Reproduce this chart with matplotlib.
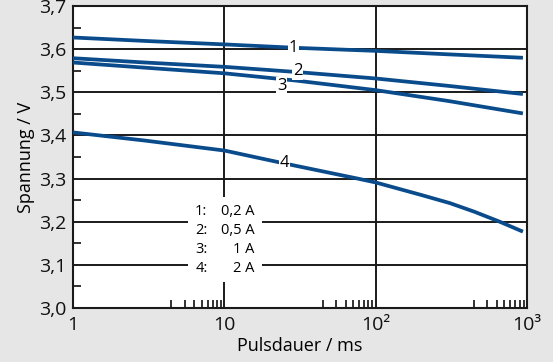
import numpy as np
import matplotlib.pyplot as plt
from matplotlib.patches import Rectangle
from matplotlib.ticker import FixedLocator, NullFormatter

plt.rcParams['font.family'] = ['Open Sans', 'DejaVu Sans']

# Pulsdauer (ms) und Spannung (V) je Kurve
x_1 = [1, 3, 10, 30, 100, 300, 940]
u_1 = [3.627, 3.619, 3.611, 3.603, 3.596, 3.588, 3.580]

x_2 = [1, 3, 10, 30, 100, 300, 940]
u_2 = [3.579, 3.569, 3.559, 3.547, 3.532, 3.515, 3.496]

x_3 = [1, 3, 10, 30, 100, 300, 940]
u_3 = [3.569, 3.557, 3.544, 3.527, 3.505, 3.480, 3.451]

x_4 = [1, 3, 10, 25, 76, 100, 200, 310, 450, 660, 940]
u_4 = [3.407, 3.388, 3.365, 3.335, 3.300, 3.291, 3.262, 3.243, 3.223, 3.200, 3.177]

kurven = ["1", "2", "3", "4"]
# Lage der Kurvennummern (x in ms, y in V)
label_x = [28.6, 30.4, 23.9, 25.0]
label_y = [3.603, 3.549, 3.515, 3.336]
legende_nr = ["1:", "2:", "3:", "4:"]
legende_strom = ["0,2 A", "0,5 A", "1 A", "2 A"]

x_ticks = [1, 10, 100, 1000]
x_ticklabels = ["1", "10", "10\u00b2", "10\u00b3"]
y_ticks = [3.0, 3.1, 3.2, 3.3, 3.4, 3.5, 3.6, 3.7]
y_ticklabels = ["3,0", "3,1", "3,2", "3,3", "3,4", "3,5", "3,6", "3,7"]

BLAU = "#0a4b8c"
GRAU = "#e5e6e5"

fig = plt.figure(figsize=(5.53, 3.62), dpi=100, facecolor=GRAU)
ax = fig.add_axes([73 / 553, 54 / 362, 454 / 553, 302 / 362])
ax.set_facecolor("white")

ax.set_xscale("log")
ax.set_xlim(1, 1000)
ax.set_ylim(3.0, 3.7)

ax.set_xticks(x_ticks)
ax.set_xticklabels(x_ticklabels)
ax.set_yticks(y_ticks)
ax.set_yticklabels(y_ticklabels)

# kleine Striche: im Bild nur in der oberen Dekadenhaelfte
minor_x = [np.sqrt(10 * k) * 10 ** d for d in range(3) for k in range(2, 10)]
ax.xaxis.set_minor_locator(FixedLocator(minor_x))
ax.xaxis.set_minor_formatter(NullFormatter())
ax.yaxis.set_minor_locator(FixedLocator([3.05, 3.15, 3.25, 3.35, 3.45, 3.55, 3.65]))

ax.tick_params(axis="both", which="major", length=0, labelsize=14, colors="#111111")
ax.tick_params(axis="x", which="major", pad=6)
ax.tick_params(axis="y", which="major", pad=5)
ax.tick_params(axis="both", which="minor", direction="in", length=6, width=1.3, color="#222222")

ax.grid(True, which="major", color="#1a1a1a", linewidth=1.4)
ax.set_axisbelow(True)
for s in ax.spines.values():
    s.set_linewidth(1.5)
    s.set_color("#1a1a1a")

# Legendenkasten verdeckt das Gitter
ax.add_patch(Rectangle((0.253, 0.086), 0.163, 0.282, transform=ax.transAxes,
                       facecolor="white", edgecolor="none", zorder=2.5))
for i, (nr, strom) in enumerate(zip(legende_nr, legende_strom)):
    yy = 0.321 - i * 0.063
    ax.text(0.269, yy, nr, transform=ax.transAxes, fontsize=10.5,
            va="center", ha="left", zorder=3)
    ax.text(0.399, yy, strom, transform=ax.transAxes, fontsize=10.5,
            va="center", ha="right", zorder=3)

for xs, us in zip([x_1, x_2, x_3, x_4], [u_1, u_2, u_3, u_4]):
    ax.plot(xs, us, color=BLAU, linewidth=2.7, solid_capstyle="butt", zorder=3)

for name, lx, ly in zip(kurven, label_x, label_y):
    ax.text(lx, ly, name, fontsize=12, ha="center", va="center", zorder=4,
            bbox=dict(facecolor="white", edgecolor="none", pad=0.5))

ax.set_xlabel("Pulsdauer / ms", fontsize=13, labelpad=2)
ax.set_ylabel("Spannung / V", fontsize=13, labelpad=3)

fig.savefig("out.png", dpi=100, facecolor=GRAU)
